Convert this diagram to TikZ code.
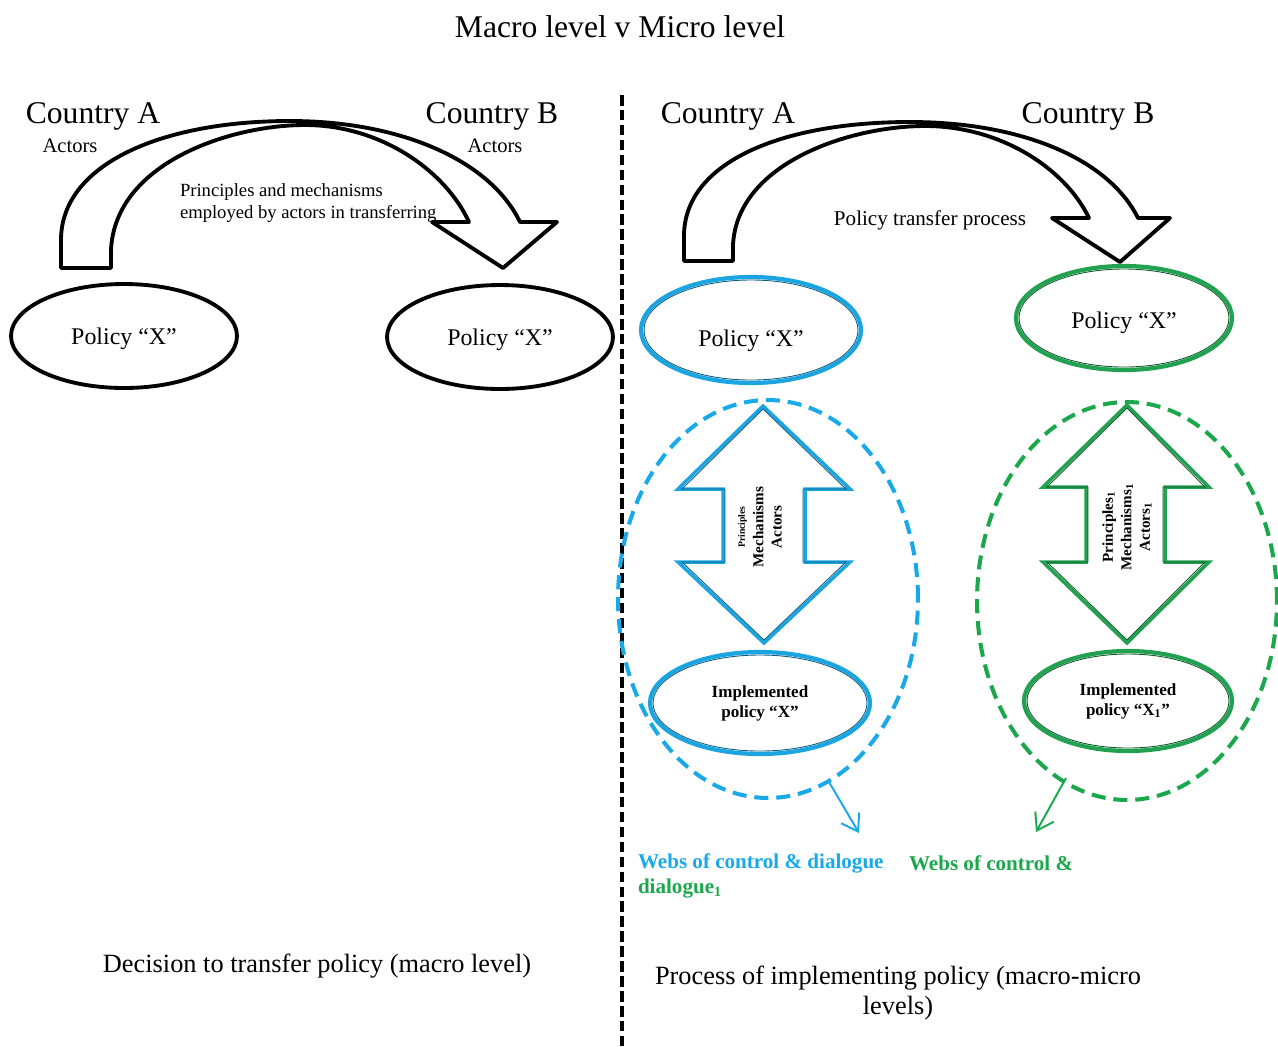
\documentclass[tikz,border=0pt]{standalone}
\usepackage{fontspec}
\setmainfont{Liberation Serif}
\usetikzlibrary{shapes.geometric,arrows.meta}
\definecolor{cyanb}{HTML}{1BA5E0}
\definecolor{darkb}{HTML}{0E5E82}
\definecolor{greenb}{HTML}{22A150}
\definecolor{darkg}{HTML}{0F5A2A}
\definecolor{dashb}{HTML}{19A9E8}
\definecolor{dashg}{HTML}{1BA84C}
\begin{document}
\begin{tikzpicture}[x=0.02cm,y=-0.02cm,
  txt/.style={inner sep=0pt, outer sep=0pt},
  big/.style={txt, font=\fontsize{18pt}{21pt}\selectfont},
  small/.style={txt, font=\fontsize{11.7pt}{14pt}\selectfont},
  bottomtxt/.style={txt, font=\fontsize{15pt}{17pt}\selectfont, align=center},
  polblack/.style={ellipse, draw=black, line width=2.2pt, inner sep=0pt,
     font=\fontsize{13.6pt}{16pt}\selectfont},
  polcol/.style={ellipse, draw=#1, line width=2.4pt, inner sep=0pt,
     font=\fontsize{13.6pt}{16pt}\selectfont},
  implcol/.style={ellipse, draw=#1, line width=2.4pt, inner sep=0pt, align=center,
     font=\fontsize{9.7pt}{11.3pt}\selectfont\bfseries},
  webs/.style={ellipse, draw=#1, line width=2.3pt, dash pattern=on 8pt off 4.5pt, inner sep=0pt},
  curvarrow/.style={draw=black, line width=2.2pt, fill=white, line join=round},
  dblarrow/.style={draw=#1, line width=2pt, fill=white, line join=miter},
  rottxt/.style={txt, rotate=90, align=center, font=\fontsize{8.6pt}{10.5pt}\selectfont\bfseries},
  websarrow/.style={draw=#1, line width=1.1pt, -{Straight Barb[length=9pt,width=12pt]}},
  webslbl/.style={txt, anchor=west, font=\fontsize{12pt}{14pt}\selectfont\bfseries, text=#1}
]
\useasboundingbox (0,0) rectangle (1278,1046);

% title
\node[big] (title) at (620,27) {Macro level v Micro level};

% divider
\coordinate (divtop) at (622,95);
\coordinate (divbot) at (622,1046);
\draw[black, line width=1.8pt, dash pattern=on 6pt off 2.5pt] (divtop) -- (divbot);

% ---------- left half ----------
\draw[curvarrow] (61,268) -- (111,268) -- (111,250)
  .. controls (115,163) and (230,125) .. (305,125)
  .. controls (380,125) and (445,170) .. (469,222)
  -- (432,222) -- (503,268) -- (557,222) -- (520,222)
  .. controls (490,160) and (400,121) .. (290,121)
  .. controls (160,121) and (61,165) .. (61,240) -- cycle;

\node[big] (lca) at (93,116) {Country A};
\node[small] (lacta) at (70,146) {Actors};
\node[big] (lcb) at (492,116) {Country B};
\node[small] (lactb) at (495,146) {Actors};
\node[txt, anchor=west, align=left, font=\fontsize{10.6pt}{12.5pt}\selectfont] (prin) at (180,203)
  {Principles and mechanisms\\employed by actors in transferring};

\node[polblack, minimum width=4.52cm, minimum height=2.08cm, text height=13pt, text depth=3pt] (lpa) at (124,336) {Policy “X”};
\node[polblack, minimum width=4.52cm, minimum height=2.08cm, text height=13pt, text depth=3pt] (lpb) at (500,337) {Policy “X”};

\node[bottomtxt] (dec) at (317,966) {Decision to transfer policy (macro level)};

% ---------- right half ----------
\draw[curvarrow] (684,261) -- (733,261) -- (733,245)
  .. controls (737,163) and (850,126) .. (925,126)
  .. controls (1000,126) and (1065,168) .. (1089,218)
  -- (1052,218) -- (1120,262) -- (1170,218) -- (1138,218)
  .. controls (1108,158) and (1020,122) .. (910,122)
  .. controls (780,122) and (684,163) .. (684,236) -- cycle;

\node[big] (rca) at (728,116) {Country A};
\node[big] (rcb) at (1088,116) {Country B};
\node[txt, font=\fontsize{12pt}{14pt}\selectfont] (ptp) at (930,220) {Policy transfer process};

\node[polcol=cyanb, minimum width=4.4cm, minimum height=2.12cm, text height=22pt, text depth=3pt] (rpa) at (751,330) {Policy “X”};
\draw[darkb, line width=0.5pt] (rpa.center) ellipse (107 and 50);
\node[polcol=greenb, minimum width=4.32cm, minimum height=2.08cm, text height=15pt, text depth=3pt] (rpb) at (1124,318) {Policy “X”};
\draw[darkg, line width=0.5pt] (rpb.center) ellipse (105 and 49);

% dashed webs
\node[webs=dashb, minimum width=6cm, minimum height=7.96cm] (webA) at (768,599) {};
\node[webs=dashg, minimum width=6cm, minimum height=7.96cm] (webB) at (1127,601) {};

% double arrows
\draw[dblarrow=cyanb] (763,406) -- (850,489) -- (805,489) -- (805,562) -- (850,562)
  -- (764,643) -- (678,562) -- (723,562) -- (723,489) -- (678,489) -- cycle;
\draw[darkb, line width=0.5pt, line join=miter] (763,409) -- (846,489) -- (803,489) -- (803,562) -- (846,562)
  -- (764,640) -- (682,562) -- (725,562) -- (725,489) -- (682,489) -- cycle;
\draw[dblarrow=greenb] (1127,405) -- (1209,487) -- (1165,487) -- (1165,562) -- (1209,562)
  -- (1127,643) -- (1043,562) -- (1086,562) -- (1086,487) -- (1043,487) -- cycle;
\draw[darkg, line width=0.5pt, line join=miter] (1127,408) -- (1205,487) -- (1163,487) -- (1163,562) -- (1205,562)
  -- (1127,640) -- (1047,562) -- (1088,562) -- (1088,487) -- (1047,487) -- cycle;

\node[rottxt] (pmaA) at (760,527) {{\fontsize{5.5pt}{7pt}\selectfont Principles}\\Mechanisms\\Actors};
\node[rottxt] (pmaB) at (1127,527) {Principles\textsubscript{1}\\Mechanisms\textsubscript{1}\\Actors\textsubscript{1}};

% implemented
\node[implcol=cyanb, minimum width=4.4cm, minimum height=2.04cm] (impA) at (760,703) {Implemented\\policy “X”};
\draw[darkb, line width=0.5pt] (impA.center) ellipse (107 and 48);
\node[implcol=greenb, minimum width=4.16cm, minimum height=2.0cm] (impB) at (1128,701) {Implemented\\policy “X\textsubscript{1}”};
\draw[darkg, line width=0.5pt] (impB.center) ellipse (101 and 47);

% webs labels
\node[webslbl=dashb] (wlA) at (638,863) {Webs of control \& dialogue};
\node[webslbl=dashg] (wlA2) at (638,888) {dialogue\textsubscript{1}};
\node[webslbl=dashg] (wlB) at (909,863) {Webs of control \&};

\coordinate (waS) at (829,782);
\coordinate (waE) at (859,833);
\coordinate (wbS) at (1066,778);
\coordinate (wbE) at (1036,832);
\draw[websarrow=dashb] (waS) -- (waE);
\draw[websarrow=dashg] (wbS) -- (wbE);

\node[bottomtxt, font=\fontsize{15pt}{17.5pt}\selectfont] (proc) at (898,993) {Process of implementing policy (macro-micro\\levels)};
\end{tikzpicture}
\end{document}
